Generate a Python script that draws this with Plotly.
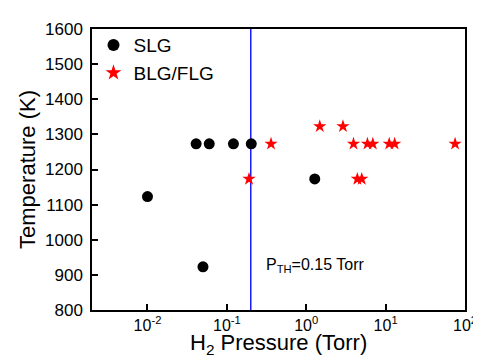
import plotly.graph_objects as go

# Data
slg_pressure = [0.01, 0.05, 0.041, 0.06, 0.121, 0.203, 1.28]
slg_temp = [1123, 923, 1273, 1273, 1273, 1273, 1173]

flg_pressure = [0.19, 0.36, 1.48, 2.9, 3.94, 5.9, 6.9, 11.1, 13.0, 75, 4.4, 5.0]
flg_temp = [1173, 1273, 1323, 1323, 1273, 1273, 1273, 1273, 1273, 1273, 1173, 1173]

threshold_x = [0.2, 0.2]
threshold_y = [800, 1600]

x_tickvals = [0.01, 0.1, 1, 10, 100]
x_ticktext = ["10<sup>-2</sup>", "10<sup>-1</sup>", "10<sup>0</sup>", "10<sup>1</sup>", "10<sup>2</sup>"]
y_tickvals = [800, 900, 1000, 1100, 1200, 1300, 1400, 1500, 1600]

FONT = "Liberation Sans, Arial, sans-serif"

fig = go.Figure()
fig.add_trace(go.Scatter(
    x=threshold_x, y=threshold_y, mode="lines",
    line=dict(color="#1a1aff", width=1.5), showlegend=False, hoverinfo="skip"))
fig.add_trace(go.Scatter(
    x=slg_pressure, y=slg_temp, mode="markers", name="SLG",
    marker=dict(symbol="circle", size=11, color="black")))
fig.add_trace(go.Scatter(
    x=flg_pressure, y=flg_temp, mode="markers", name="BLG/FLG",
    marker=dict(symbol="star", size=10, color="red", line=dict(width=0))))

fig.update_layout(
    width=481, height=355,
    margin=dict(l=84, r=13, t=20, b=53),
    paper_bgcolor="white", plot_bgcolor="white",
    font=dict(family=FONT, color="black", size=16),
    legend=dict(x=0.004, y=1.01, xanchor="left", yanchor="top",
                bgcolor="rgba(0,0,0,0)", font=dict(size=19),
                itemsizing="constant", tracegroupgap=0),
    showlegend=True,
)
fig.update_xaxes(
    type="log", range=[-2.699, 2],
    tickvals=x_tickvals, ticktext=x_ticktext,
    ticks="inside", ticklen=6, tickwidth=1.5, tickcolor="black",
    showline=True, linecolor="black", linewidth=1.5, mirror=True,
    showgrid=False, zeroline=False,
    tickfont=dict(size=16),
)
fig.update_yaxes(
    range=[800, 1600], tickvals=y_tickvals,
    ticks="inside", ticklen=6, tickwidth=1.5, tickcolor="black",
    showline=True, linecolor="black", linewidth=1.5, mirror=True,
    showgrid=False, zeroline=False,
    tickfont=dict(size=17), ticklabelstandoff=4,
    title=dict(text="Temperature (K)", font=dict(size=22), standoff=3),
)
# x-axis title placed as annotation for exact position
fig.add_annotation(
    x=0.5, y=-0.122, xref="paper", yref="paper",
    xanchor="center", yanchor="middle", showarrow=False, borderpad=0,
    text="H<sub>2</sub> Pressure (Torr)", font=dict(size=22))
fig.add_annotation(
    x=0.46, y=0.16, xref="paper", yref="paper",
    xanchor="left", yanchor="middle", showarrow=False,
    text="P<sub>TH</sub>=0.15 Torr", font=dict(size=16))

fig.write_html("out.html")
